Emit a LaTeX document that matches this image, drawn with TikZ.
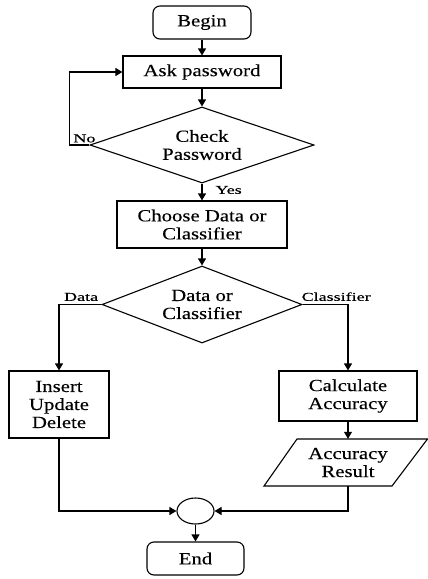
\documentclass[tikz,border=0pt]{standalone}
\usepackage{fontspec}
\setmainfont{Liberation Serif}[FakeStretch=1.22,FakeBold=0.3]
\newfontfamily\tagfont{Liberation Serif}[FakeStretch=1.5,FakeBold=0.3]
\usetikzlibrary{shapes.geometric,arrows.meta}

\begin{document}
\begin{tikzpicture}[x=1pt,y=-1pt,
  every node/.style={font=\fontsize{17}{18}\selectfont, align=center, inner sep=0pt},
  box/.style={draw, rectangle, line width=1.1pt},
  term/.style={draw, rectangle, rounded corners=7pt, line width=1.1pt},
  decision/.style={draw, diamond, line width=1.1pt},
  flow/.style={line width=1.1pt, -{Triangle[length=7pt,width=8pt]}},
  line/.style={line width=1.1pt},
  tag/.style={font=\tagfont\fontsize{12}{13}\selectfont}
]
\path[use as bounding box] (0,0) rectangle (428,579);

% process steps
\node[term, minimum width=98pt, minimum height=33pt] (begin) at (202,22.5) {Begin};
\node[box, minimum width=158pt, minimum height=32pt] (ask) at (202,72) {Ask password};
\node[decision, aspect=2.9, minimum width=224pt, minimum height=76pt] (check) at (202,145) {Check\\Password};
\node[box, minimum width=170pt, minimum height=47pt] (choose) at (202,224.5) {Choose Data or\\Classifier};
\node[decision, aspect=2.6, minimum width=200pt, minimum height=77pt] (which) at (202,304.5) {Data or\\Classifier};
\node[box, minimum width=100pt, minimum height=67pt] (edit) at (59,404.5) {Insert\\Update\\Delete};
\node[box, minimum width=138pt, minimum height=50pt] (calc) at (348,396) {Calculate\\Accuracy};
\node[minimum width=128pt, minimum height=47pt] (result) at (348,462.5) {Accuracy\\Result};
\draw[line] (297,439) -- (427.5,439) -- (392,486) -- (264,486) -- cycle;
\node[draw, ellipse, line width=1.1pt, minimum width=37pt, minimum height=26pt] (join) at (195.5,511) {};
\node[term, minimum width=97pt, minimum height=33pt] (end) at (195.5,558.5) {End};

% connectors
\draw[flow] (begin.south) -- (ask.north);
\draw[flow] (ask.south) -- (check.north);
\draw[flow] (check.south) -- node[tag, anchor=west, xshift=13pt, yshift=2pt] {Yes} (choose.north);
\draw[flow] (check.west) -- node[tag, pos=0.25, anchor=south, yshift=2pt] {No} ++(-20,0) |- (ask.west);
\draw[flow] (choose.south) -- (which.north);
\draw[flow] (which.west) -| node[tag, pos=0.24, anchor=south, yshift=3pt] {Data} (edit.north);
\draw[flow] (which.east) -| node[tag, pos=0.37, anchor=south, yshift=3pt] {Classifier} (calc.north);
\draw[flow] (calc.south) -- (result.north);
\draw[flow] (edit.south) |- (join.west);
\draw[flow] (result.south) |- (join.east);
\draw[flow] (join.south) -- (end.north);
\end{tikzpicture}
\end{document}
